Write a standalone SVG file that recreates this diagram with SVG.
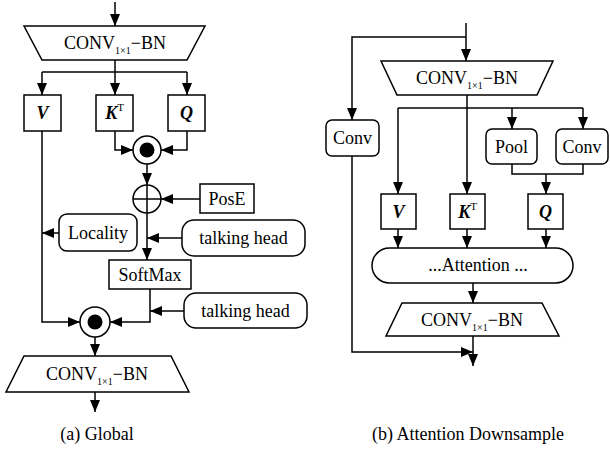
<svg xmlns="http://www.w3.org/2000/svg" width="610" height="449" viewBox="0 0 610 449">
<defs>
<marker id="ah" markerUnits="userSpaceOnUse" markerWidth="13" markerHeight="13" viewBox="0 0 13 13" refX="12" refY="6.5" orient="auto">
<path d="M0,1.5 L12,6.5 L0,11.5 Z" fill="#000"/>
</marker>
<style>
.s{fill:#fff;stroke:#000;stroke-width:1.5}
.c path{fill:none;stroke:#000;stroke-width:1.5}
.c .a{marker-end:url(#ah)}
</style>
</defs>
<rect width="610" height="449" fill="#fff"/>

<g class="c" id="connectors">
<path class="a" d="M115,2 V26"/>
<path class="a" d="M115,60 V95"/>
<path d="M42,72 H187"/>
<path class="a" d="M42,72 V95"/>
<path class="a" d="M187,72 V95"/>
<path class="a" d="M115,131 V150 H133"/>
<path class="a" d="M187,131 V150 H161"/>
<path class="a" d="M147,164 V185"/>
<path class="a" d="M200,199 H161"/>
<path class="a" d="M147,213 V260"/>
<path class="a" d="M59,233 H42"/>
<path class="a" d="M182,238 H147"/>
<path class="a" d="M150,289 V322 H110"/>
<path class="a" d="M184,311 H150"/>
<path class="a" d="M42,131 V322 H80"/>
<path class="a" d="M95,337 V356"/>
<path class="a" d="M95,392 V412"/>

<path class="a" d="M466,23 V61"/>
<path class="a" d="M466,37 H352 V120"/>
<path class="a" d="M467,95 V194"/>
<path d="M398,108 H583"/>
<path class="a" d="M398,108 V194"/>
<path class="a" d="M512,108 V129"/>
<path class="a" d="M583,108 V129"/>
<path d="M512,164 V174 H583 V164"/>
<path class="a" d="M546,174 V194"/>
<path class="a" d="M398,229 V248"/>
<path class="a" d="M467,229 V248"/>
<path class="a" d="M546,229 V248"/>
<path class="a" d="M473,283 V303"/>
<path class="a" d="M473,336 V366"/>
<path class="a" d="M352,156 V352 H473"/>
</g>

<g font-family="'Liberation Serif', serif" font-size="18" text-anchor="middle" fill="#000">
<g id="a-conv-top">
<polygon class="s" points="24,26 205,26 187,60 42,60"/>
<text font-family="'Liberation Serif'" x="115" y="49">CONV<tspan font-size="10" dy="5">1×1</tspan><tspan dy="-5">−BN</tspan></text>
</g>
<g id="a-v"><rect class="s" x="24" y="95" width="37" height="36"/><text font-family="'Liberation Serif'" font-weight="bold" font-style="italic" x="42.5" y="119">V</text></g>
<g id="a-k"><rect class="s" x="96" y="95" width="37" height="36"/><text font-family="'Liberation Serif'" font-weight="bold" font-style="italic" x="114.5" y="119">K<tspan font-size="11" font-weight="normal" font-style="normal" dy="-8">T</tspan></text></g>
<g id="a-q"><rect class="s" x="168" y="95" width="37" height="36"/><text font-family="'Liberation Serif'" font-weight="bold" font-style="italic" x="186.5" y="119">Q</text></g>
<g id="a-dot1"><circle class="s" cx="147" cy="150" r="14"/><circle cx="147" cy="150" r="7.5" fill="#000"/></g>
<g id="a-plus"><circle class="s" cx="147" cy="199" r="14"/><path d="M133,199 H161 M147,185 V213" stroke="#000" stroke-width="1.5"/></g>
<g id="a-pose"><rect class="s" x="200" y="184" width="54" height="29"/><text font-family="'Liberation Serif'" x="227" y="205">PosE</text></g>
<g id="a-locality"><rect class="s" x="59" y="214" width="78" height="37" rx="8"/><text font-family="'Liberation Serif'" x="98" y="239">Locality</text></g>
<g id="a-th1"><rect class="s" x="182" y="220" width="123" height="36" rx="12"/><text font-family="'Liberation Serif'" x="243.5" y="244">talking head</text></g>
<g id="a-softmax"><rect class="s" x="109" y="260" width="82" height="29"/><text font-family="'Liberation Serif'" x="150" y="281">SoftMax</text></g>
<g id="a-th2"><rect class="s" x="184" y="293" width="123" height="35" rx="12"/><text font-family="'Liberation Serif'" x="245.5" y="317">talking head</text></g>
<g id="a-dot2"><circle class="s" cx="95" cy="322" r="15"/><circle cx="95" cy="322" r="7.5" fill="#000"/></g>
<g id="a-conv-bot">
<polygon class="s" points="24,356 171,356 189,392 6,392"/>
<text font-family="'Liberation Serif'" x="97" y="380">CONV<tspan font-size="10" dy="5">1×1</tspan><tspan dy="-5">−BN</tspan></text>
</g>
<text font-family="'Liberation Serif'" id="cap-a" x="97" y="440">(a) Global</text>

<g id="b-conv-top">
<polygon class="s" points="381,61 553,61 537,95 397,95"/>
<text font-family="'Liberation Serif'" x="467" y="84">CONV<tspan font-size="10" dy="5">1×1</tspan><tspan dy="-5">−BN</tspan></text>
</g>
<g id="b-conv-left"><rect class="s" x="326" y="120" width="53" height="36" rx="6"/><text font-family="'Liberation Serif'" x="352.5" y="144">Conv</text></g>
<g id="b-pool"><rect class="s" x="486" y="129" width="51" height="35" rx="6"/><text font-family="'Liberation Serif'" x="511.5" y="153">Pool</text></g>
<g id="b-conv-right"><rect class="s" x="556" y="129" width="52" height="35" rx="6"/><text font-family="'Liberation Serif'" x="582" y="153">Conv</text></g>
<g id="b-v"><rect class="s" x="381" y="194" width="35" height="35"/><text font-family="'Liberation Serif'" font-weight="bold" font-style="italic" x="398.5" y="218">V</text></g>
<g id="b-k"><rect class="s" x="450" y="194" width="35" height="35"/><text font-family="'Liberation Serif'" font-weight="bold" font-style="italic" x="467.5" y="218">K<tspan font-size="11" font-weight="normal" font-style="normal" dy="-8">T</tspan></text></g>
<g id="b-q"><rect class="s" x="528" y="194" width="35" height="35"/><text font-family="'Liberation Serif'" font-weight="bold" font-style="italic" x="545.5" y="218">Q</text></g>
<g id="b-attn"><rect class="s" x="372" y="248" width="201" height="35" rx="17.5"/><text font-family="'Liberation Serif'" x="478" y="271">...Attention ...</text></g>
<g id="b-conv-bot">
<polygon class="s" points="402,303 542,303 559,336 386,336"/>
<text font-family="'Liberation Serif'" x="472" y="326">CONV<tspan font-size="10" dy="5">1×1</tspan><tspan dy="-5">−BN</tspan></text>
</g>
<text font-family="'Liberation Serif'" id="cap-b" x="468" y="440">(b) Attention Downsample</text>
</g>
</svg>
